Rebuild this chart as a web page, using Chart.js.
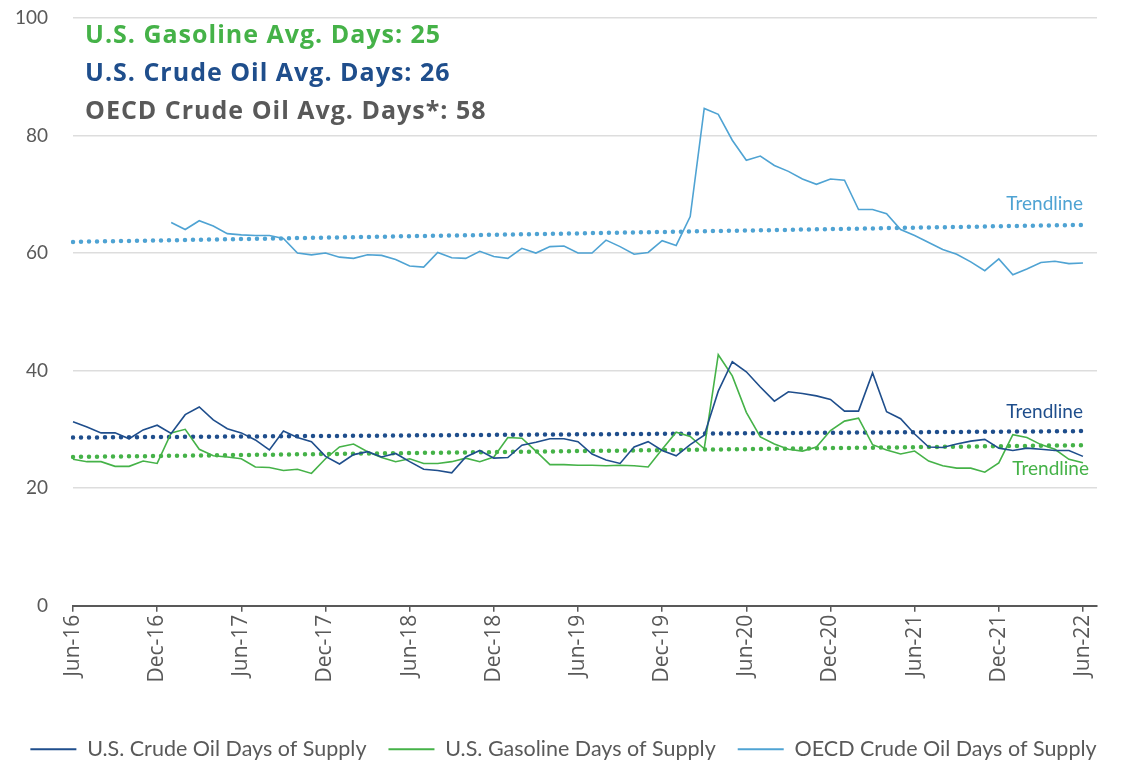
<!DOCTYPE html>
<html>
<head>
<meta charset="utf-8">
<script src="https://cdn.jsdelivr.net/npm/chart.js@4.4.0/dist/chart.umd.min.js"></script>
<style>
  html, body { margin: 0; padding: 0; background: #fff; }
</style>
</head>
<body>
<canvas id="supplyChart" width="1127" height="761"></canvas>
<script>
// Months on the x axis (the last one has no data, it only pads the axis)
const months = [
  'Jun-16','Jul-16','Aug-16','Sep-16','Oct-16','Nov-16','Dec-16',
  'Jan-17','Feb-17','Mar-17','Apr-17','May-17','Jun-17','Jul-17','Aug-17','Sep-17','Oct-17','Nov-17','Dec-17',
  'Jan-18','Feb-18','Mar-18','Apr-18','May-18','Jun-18','Jul-18','Aug-18','Sep-18','Oct-18','Nov-18','Dec-18',
  'Jan-19','Feb-19','Mar-19','Apr-19','May-19','Jun-19','Jul-19','Aug-19','Sep-19','Oct-19','Nov-19','Dec-19',
  'Jan-20','Feb-20','Mar-20','Apr-20','May-20','Jun-20','Jul-20','Aug-20','Sep-20','Oct-20','Nov-20','Dec-20',
  'Jan-21','Feb-21','Mar-21','Apr-21','May-21','Jun-21','Jul-21','Aug-21','Sep-21','Oct-21','Nov-21','Dec-21',
  'Jan-22','Feb-22','Mar-22','Apr-22','May-22','Jun-22','Jul-22'
];

// Days of supply, Jun-16 .. Jun-22
const crudeDays = [
  31.3, 30.4, 29.4, 29.4, 28.4, 29.9, 30.7,
  29.3, 32.5, 33.8, 31.6, 30.1, 29.4, 28.2, 26.5, 29.7, 28.6, 27.9, 25.4,
  24.1, 25.7, 26.2, 25.3, 25.9, 24.5, 23.2, 23.0, 22.6, 25.3, 26.4, 25.1,
  25.2, 27.3, 27.8, 28.4, 28.4, 27.9, 25.8, 24.8, 24.2, 27.0, 27.9, 26.4,
  25.5, 27.4, 29.0, 36.5, 41.5, 39.8, 37.2, 34.8, 36.4, 36.1, 35.7, 35.1,
  33.1, 33.1, 39.6, 33.0, 31.8, 29.2, 27.0, 26.9, 27.5, 28.0, 28.3, 26.8,
  26.4, 26.8, 26.6, 26.4, 26.4, 25.4
];
const gasolineDays = [
  24.9, 24.5, 24.5, 23.7, 23.7, 24.6, 24.2,
  29.4, 30.0, 26.6, 25.5, 25.3, 25.0, 23.6, 23.5, 23.0, 23.2, 22.5, 25.0,
  27.0, 27.5, 26.2, 25.2, 24.5, 25.0, 24.2, 24.2, 24.5, 25.1, 24.5, 25.3,
  28.6, 28.5, 26.3, 24.0, 24.0, 23.9, 23.9, 23.8, 23.9, 23.8, 23.6, 26.6,
  29.5, 28.8, 26.7, 42.7, 39.1, 32.9, 28.7, 27.5, 26.6, 26.3, 27.0, 29.8,
  31.4, 31.9, 27.4, 26.5, 25.8, 26.3, 24.6, 23.8, 23.4, 23.4, 22.7, 24.3,
  29.1, 28.6, 27.4, 26.6, 24.9, 24.3
];
const oecdDays = [
  null, null, null, null, null, null, null,
  65.2, 64.0, 65.5, 64.6, 63.3, 63.1, 63.0, 63.0, 62.5, 60.0, 59.7, 60.0,
  59.3, 59.1, 59.7, 59.6, 58.9, 57.8, 57.6, 60.1, 59.2, 59.1, 60.3, 59.4,
  59.1, 60.8, 60.0, 61.1, 61.2, 60.0, 60.0, 62.2, 61.1, 59.8, 60.1, 62.1,
  61.3, 66.2, 84.6, 83.6, 79.2, 75.8, 76.5, 74.9, 73.9, 72.6, 71.7, 72.6,
  72.4, 67.4, 67.4, 66.7, 64.0, 63.0, 61.8, 60.6, 59.8, 58.5, 57.0, 59.0,
  56.3, 57.3, 58.4, 58.6, 58.2, 58.3
];

// Trendline start / end values (Jun-16, Jun-22)
const crudeTrend = [28.6, 29.7];
const gasolineTrend = [25.3, 27.3];
const oecdTrend = [61.9, 64.8];

const headerLines = ['U.S. Gasoline Avg. Days: 25', 'U.S. Crude Oil Avg. Days: 26', 'OECD Crude Oil Avg. Days*: 58'];

const colCrude = '#1F4E8C';
const colGas = '#45B248';
const colOecd = '#4FA3D3';
const colText = '#595959';
const headerColors = [colGas, colCrude, colText];

function trendPoints(vals) {
  return [{ x: months[0], y: vals[0] }, { x: months[72], y: vals[1] }];
}

function seriesSet(label, data, color) {
  return { label: label, data: data, borderColor: color, backgroundColor: color, borderWidth: 1.6, pointRadius: 0, tension: 0 };
}

function trendSet(label, vals, color) {
  return {
    label: label, data: trendPoints(vals), borderColor: color, backgroundColor: color,
    borderWidth: 4.5, borderDash: [0, 8], borderCapStyle: 'round', pointRadius: 0, spanGaps: true
  };
}

// texts drawn over the plot: header lines and the "Trendline" notes
const annotate = {
  id: 'annotate',
  afterDraw(chart) {
    const { ctx, chartArea, scales } = chart;
    ctx.save();
    ctx.textBaseline = 'middle';
    ctx.textAlign = 'left';
    ctx.font = 'bold 25px "Open Sans"';
    ctx.letterSpacing = '1px';
    headerLines.forEach((t, i) => {
      ctx.fillStyle = headerColors[i];
      ctx.fillText(t, chartArea.left + 12, 36 + i * 38);
    });
    ctx.letterSpacing = '0px';
    ctx.font = '19px Lato';
    ctx.textAlign = 'right';
    const xr = scales.x.getPixelForValue(72);
    ctx.fillStyle = colOecd;
    ctx.fillText('Trendline', xr, scales.y.getPixelForValue(68.3));
    ctx.fillStyle = colCrude;
    ctx.fillText('Trendline', xr, scales.y.getPixelForValue(32.9));
    ctx.fillStyle = colGas;
    ctx.fillText('Trendline', xr + 6, scales.y.getPixelForValue(23.2));
    ctx.restore();
  }
};

const ctx = document.getElementById('supplyChart').getContext('2d');
new Chart(ctx, {
  type: 'line',
  data: {
    labels: months,
    datasets: [
      seriesSet('U.S. Crude Oil Days of Supply', crudeDays, colCrude),
      seriesSet('U.S. Gasoline Days of Supply', gasolineDays, colGas),
      seriesSet('OECD Crude Oil Days of Supply', oecdDays, colOecd),
      trendSet('Trend crude', crudeTrend, colCrude),
      trendSet('Trend gasoline', gasolineTrend, colGas),
      trendSet('Trend OECD', oecdTrend, colOecd)
    ]
  },
  options: {
    responsive: false,
    animation: false,
    layout: { padding: { left: 5, right: 5, top: 18, bottom: -9 } },
    plugins: {
      legend: {
        position: 'bottom',
        labels: {
          boxWidth: 46,
          boxHeight: 2,
          padding: 22,
          color: colText,
          font: { family: 'Lato', size: 21.5 },
          generateLabels: function(chart) {
            return Chart.defaults.plugins.legend.labels.generateLabels(chart)
              .filter(it => it.datasetIndex < 3)
              .map(it => Object.assign(it, { lineWidth: 0 }));
          }
        }
      },
      tooltip: { enabled: false }
    },
    scales: {
      x: {
        afterFit: function(scale) {
          scale.height += 31;
          scale.paddingLeft = 0;
          scale.paddingRight = 30;
        },
        grid: { drawOnChartArea: false, drawTicks: true, tickLength: 6, color: colText, lineWidth: 1.5 },
        border: { color: colText, width: 2 },
        ticks: {
          autoSkip: false, maxRotation: 90, minRotation: 90, padding: 3,
          color: colText, font: { family: 'Open Sans', size: 21 },
          callback: function(v, i) { return i % 6 === 0 ? this.getLabelForValue(v) : null; }
        }
      },
      y: {
        min: 0, max: 100,
        afterFit: function(scale) {
          scale.width = 68;
          scale.paddingTop = 10;
          scale.paddingBottom = 10;
        },
        ticks: { stepSize: 20, padding: 25, color: colText, font: { family: 'Lato', size: 19 } },
        grid: { color: '#dddddd', lineWidth: 1.5, drawTicks: false },
        border: { display: false }
      }
    }
  },
  plugins: [annotate]
});
</script>
</body>
</html>
